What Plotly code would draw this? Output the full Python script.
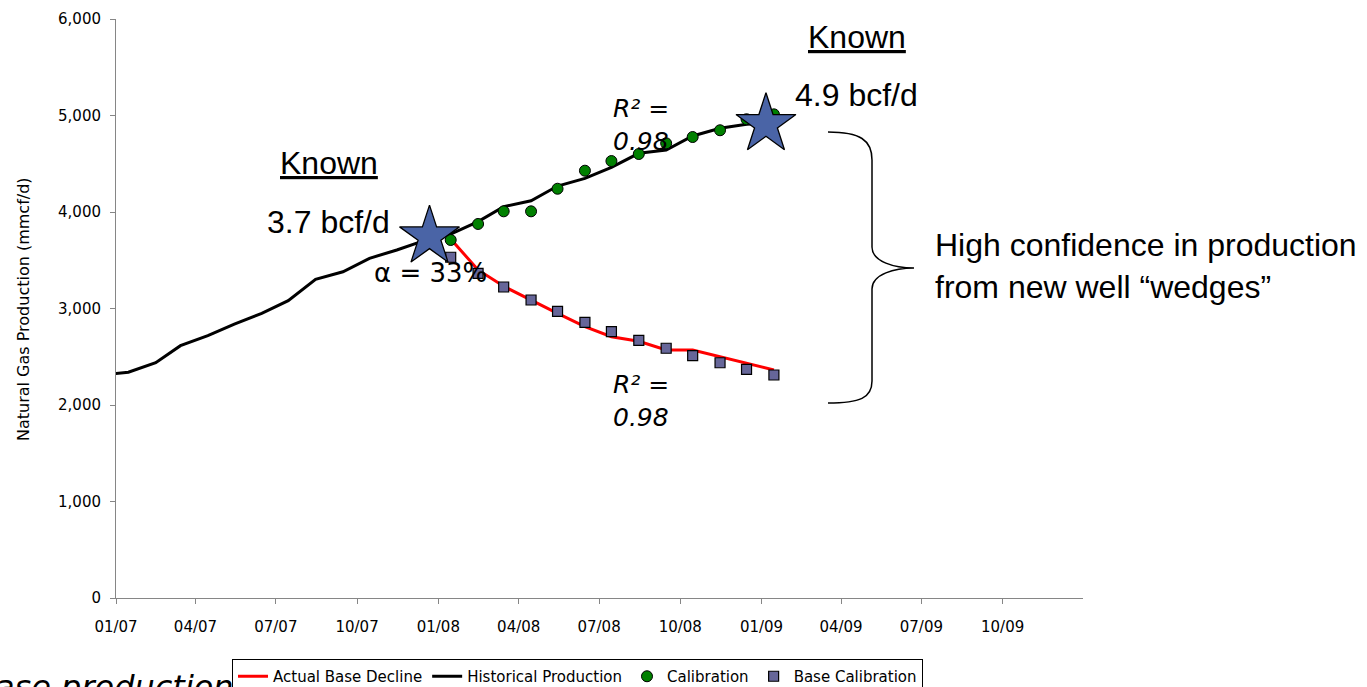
import plotly.graph_objects as go

# ---------------- data ----------------
hist_dates = ["2006-12-15", "2007-01-15", "2007-02-15", "2007-03-15", "2007-04-15", "2007-05-15",
              "2007-06-15", "2007-07-15", "2007-08-15", "2007-09-15", "2007-10-15", "2007-11-15",
              "2007-12-15", "2008-01-15", "2008-02-15", "2008-03-15", "2008-04-15", "2008-05-15",
              "2008-06-15", "2008-07-15", "2008-08-15", "2008-09-15", "2008-10-15", "2008-11-15",
              "2008-12-15", "2009-01-15"]
hist_values = [2310, 2339, 2438, 2615, 2718, 2839, 2950, 3081, 3303, 3381, 3520, 3606,
               3700, 3770, 3900, 4055, 4117, 4269, 4349, 4463, 4608, 4642, 4788, 4867,
               4909, 4925]

calib_dates = ["2008-01-15", "2008-02-15", "2008-03-15", "2008-04-15", "2008-05-15", "2008-06-15",
               "2008-07-15", "2008-08-15", "2008-09-15", "2008-10-15", "2008-11-15", "2008-12-15",
               "2009-01-15"]
calib_values = [3710, 3876, 4007, 4007, 4241, 4428, 4528, 4601, 4712, 4777, 4847, 4961, 5012]
base_calib_values = [3531, 3365, 3223, 3088, 2971, 2857, 2760, 2670, 2588, 2511, 2438, 2370, 2311]
base_decline_values = [3720, 3400, 3230, 3085, 2950, 2812, 2708, 2660, 2570, 2570, 2501, 2432, 2363]

star_dates = ["2007-12-22", "2009-01-06"]
star_values = [3745, 4909]

y_ticks = [0, 1000, 2000, 3000, 4000, 5000, 6000]

# ---------------- layout helpers (pixel -> paper) ----------------
W, H = 1367, 687
L, R, T, B = 116, 1083, 19, 598


def px(x):
    return (x - L) / (R - L)


def py(y):
    return (B - y) / (B - T)


AX = "DejaVu Sans"
ARIAL = "Liberation Sans"

fig = go.Figure()

fig.add_trace(go.Scatter(x=hist_dates, y=hist_values, mode="lines", name="Historical Production",
                         line=dict(color="#000000", width=3), legendrank=2))
fig.add_trace(go.Scatter(x=calib_dates, y=base_decline_values, mode="lines", name="Actual Base Decline",
                         line=dict(color="#ff0000", width=3), legendrank=1))
fig.add_trace(go.Scatter(x=calib_dates, y=calib_values, mode="markers", name="Calibration",
                         marker=dict(symbol="circle", size=11, color="#008000",
                                     line=dict(color="#000000", width=1)), legendrank=3))
fig.add_trace(go.Scatter(x=calib_dates, y=base_calib_values, mode="markers", name="Base Calibration",
                         marker=dict(symbol="square", size=10, color="#666699",
                                     line=dict(color="#000000", width=1.2)), legendrank=4))
fig.add_trace(go.Scatter(x=star_dates, y=star_values, mode="markers", showlegend=False,
                         marker=dict(symbol="star", size=45, color="#4A64A6",
                                     line=dict(color="#000000", width=1.3))))

annotations = [
    dict(x=px(329), y=py(163), text="<u>Known</u>", font=dict(family=ARIAL, size=32, color="#000")),
    dict(x=px(857), y=py(37), text="<u>Known</u>", font=dict(family=ARIAL, size=32, color="#000")),
    dict(x=px(328), y=py(222), text="3.7 bcf/d", font=dict(family=ARIAL, size=32, color="#000")),
    dict(x=px(856), y=py(95), text="4.9 bcf/d", font=dict(family=ARIAL, size=32, color="#000")),
    dict(x=px(430), y=py(272.5), text="α = 33%", font=dict(family=AX, size=26, color="#000")),
    dict(x=px(611), y=py(125), text="<i>R² =<br>0.98</i>", align="left", xanchor="left",
         font=dict(family=AX, size=25, color="#000")),
    dict(x=px(611), y=py(401), text="<i>R² =<br>0.98</i>", align="left", xanchor="left",
         font=dict(family=AX, size=25, color="#000")),
    dict(x=px(933), y=py(266), text="High confidence in production<br>from new well “wedges”",
         align="left", xanchor="left", font=dict(family=ARIAL, size=32, color="#000")),
    dict(x=px(236), y=py(687), text="<i>Base production</i>", xanchor="right",
         font=dict(family=AX, size=32, color="#000")),
    dict(x=px(24), y=py(309), text="Natural Gas Production (mmcf/d)", textangle=-90,
         font=dict(family=AX, size=16, color="#000")),
]
for a in annotations:
    a.setdefault("xanchor", "center")
    a.setdefault("yanchor", "middle")
    a.update(xref="paper", yref="paper", showarrow=False)

# curly brace
brace = (
    f"M {px(828)},{py(132)} "
    f"C {px(860)},{py(132)} {px(872)},{py(140)} {px(872)},{py(160)} "
    f"L {px(872)},{py(247)} "
    f"C {px(872)},{py(262)} {px(895)},{py(268)} {px(914)},{py(268)} "
    f"C {px(895)},{py(268)} {px(872)},{py(274)} {px(872)},{py(289)} "
    f"L {px(872)},{py(381)} "
    f"C {px(872)},{py(398)} {px(860)},{py(403)} {px(828)},{py(403)}"
)

fig.update_layout(
    width=W, height=H,
    margin=dict(l=L, r=W - R, t=T, b=H - B, autoexpand=False),
    paper_bgcolor="white", plot_bgcolor="white",
    font=dict(family=AX, size=15, color="#000"),
    annotations=annotations,
    shapes=[dict(type="path", path=brace, xref="paper", yref="paper",
                 line=dict(color="#000000", width=1.5))],
    showlegend=True,
    legend=dict(orientation="h", x=px(232), y=py(659), xanchor="left", yanchor="top",
                bgcolor="white", bordercolor="#000000", borderwidth=1,
                font=dict(family=AX, size=15, color="#000"), traceorder="normal"),
    xaxis=dict(type="date", range=["2007-01-01", "2009-12-31"], tick0="2007-01-01", dtick="M3",
               tickformat="%m/%y", showgrid=False, zeroline=False, showline=True,
               linecolor="#868686", linewidth=1, ticks="outside", ticklen=5, tickcolor="#868686",
               ticklabelstandoff=10,
               tickfont=dict(family=AX, size=15, color="#000")),
    yaxis=dict(range=[0, 6000], tickvals=y_ticks, tickformat=",d", showgrid=False, zeroline=False,
               showline=True, linecolor="#868686", linewidth=1, ticks="outside", ticklen=5,
               tickcolor="#868686", ticklabelstandoff=6,
               tickfont=dict(family=AX, size=15, color="#000")),
)

fig.write_html("out.html")
